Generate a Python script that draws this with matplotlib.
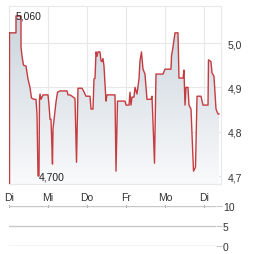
import matplotlib
matplotlib.use("Agg")
import matplotlib.pyplot as plt
import numpy as np
from matplotlib.patches import Polygon

plt.rcParams['font.family'] = ['Liberation Sans', 'DejaVu Sans']

# time in trading days since first tick (Di = 0)
t = [0, 0.179, 0.179, 0.308, 0.308, 0.333, 0.372, 0.436, 0.487, 0.538, 0.577, 0.641,
     0.692, 0.718, 0.744, 0.769, 0.782, 0.795, 0.821, 0.872, 0.949, 1.0, 1.026, 1.051,
     1.077, 1.103, 1.115, 1.128, 1.179, 1.205, 1.244, 1.308, 1.487, 1.513, 1.564, 1.615,
     1.692, 1.731, 1.769, 1.872, 1.923, 1.974, 2.077, 2.103, 2.154, 2.179, 2.205, 2.231,
     2.256, 2.282, 2.333, 2.359, 2.385, 2.410, 2.436, 2.487, 2.513, 2.718, 2.744, 2.782,
     2.974, 3.0, 3.077, 3.103, 3.128, 3.154, 3.205, 3.231, 3.282, 3.333, 3.359, 3.397,
     3.436, 3.487, 3.538, 3.641, 3.667, 3.731, 3.769, 3.949, 4.0, 4.154, 4.167, 4.205,
     4.256, 4.333, 4.359, 4.462, 4.487, 4.513, 4.538, 4.590, 4.615, 4.667, 4.731, 4.782,
     4.821, 4.923, 4.974, 5.103, 5.115, 5.179, 5.205, 5.256, 5.308, 5.359, 5.385]
price = [5.023, 5.023, 5.061, 5.061, 4.991, 4.971, 4.950, 4.948, 4.919, 4.900, 4.876, 4.873,
         4.873, 4.840, 4.700, 4.700, 4.873, 4.885, 4.873, 4.883, 4.883, 4.883, 4.860, 4.828,
         4.828, 4.760, 4.727, 4.806, 4.846, 4.867, 4.889, 4.892, 4.892, 4.883, 4.883, 4.880,
         4.875, 4.731, 4.898, 4.898, 4.890, 4.880, 4.880, 4.851, 4.851, 4.919, 4.920, 4.980,
         4.970, 4.980, 4.980, 4.960, 4.958, 4.965, 4.948, 4.869, 4.883, 4.883, 4.711, 4.869,
         4.869, 4.860, 4.860, 4.889, 4.860, 4.878, 4.878, 4.900, 4.885, 4.919, 4.960, 4.980,
         4.941, 4.930, 4.873, 4.873, 4.880, 4.729, 4.930, 4.930, 4.941, 4.941, 4.971, 4.991,
         5.023, 5.023, 4.921, 4.921, 4.939, 4.860, 4.900, 4.900, 4.860, 4.851, 4.711, 4.720,
         4.880, 4.880, 4.860, 4.860, 4.962, 4.958, 4.933, 4.925, 4.851, 4.840, 4.840]

day_labels = ["Di", "Mi", "Do", "Fr", "Mo", "Di"]
day_ticks = [0, 1, 2, 3, 4, 5]
price_ticks = [4.7, 4.8, 4.9, 5.0]
price_ticklabels = ["4,7", "4,8", "4,9", "5,0"]
vol_ticks = [0, 5, 10]
hi_label, lo_label = "5,060", "4,700"

W, H = 264, 255
fig = plt.figure(figsize=(W / 100, H / 100), dpi=100)

ymin, ymax = 4.682, 5.0835
xmax = 5.436

ax = fig.add_axes([9 / W, 1 - 185 / H, 212 / W, 178 / H])
ax.set_xlim(0, xmax)
ax.set_ylim(ymin, ymax)

# gradient fill under the line
verts = [(t[0], ymin)] + list(zip(t, price)) + [(t[-1], ymin)]
poly = Polygon(verts, closed=True, facecolor='none', edgecolor='none')
ax.add_patch(poly)
grad = np.linspace(0, 1, 256).reshape(-1, 1)
from matplotlib.colors import LinearSegmentedColormap
cmap = LinearSegmentedColormap.from_list("g", ["#f9fafb", "#c8d2db"])
im = ax.imshow(grad, extent=[0, xmax, ymin, ymax], origin='lower', cmap=cmap,
               aspect='auto', zorder=1)
im.set_clip_path(poly)

ax.plot(t, price, color='#c0282d', lw=1.0, zorder=3, alpha=0.9)
ax.plot([t[0], t[0]], [ymin, price[0]], color='#c0282d', lw=1.0, zorder=3, alpha=0.9)

ax.set_xticks(day_ticks)
ax.set_xticklabels(day_labels)
ax.set_yticks(price_ticks)
ax.set_yticklabels(price_ticklabels)
ax.yaxis.tick_right()
ax.tick_params(axis='both', length=0, labelsize=7.5, colors='#333333')
ax.tick_params(axis='x', pad=6)
ax.tick_params(axis='y', pad=5)
ax.grid(True, color='#e8e8e8', lw=0.8)
ax.set_axisbelow(True)
for s in ax.spines.values():
    s.set_color('#e8e8e8')
    s.set_linewidth(0.8)

imax = int(np.argmax(price))
imin = int(np.argmin(price))
ax.text(t[imax], price[imax], hi_label, fontsize=7.5, color='#222222',
        ha='left', va='center', zorder=4)
ax.text(t[imin] + 0.03, price[imin], lo_label, fontsize=7.5, color='#222222',
        ha='left', va='center', zorder=4)

# volume panel
vx = fig.add_axes([9 / W, 1 - 247 / H, 207 / W, 40 / H])
vx.set_xlim(0, xmax * 207 / 212)
vx.set_ylim(0, 10)
for s in vx.spines.values():
    s.set_visible(False)
vx.set_yticks(vol_ticks)
vx.yaxis.tick_right()
vx.grid(True, axis='y', color='#c8c8c8', lw=1.0)
vx.tick_params(axis='y', length=4, color='#c8c8c8', labelsize=7.5, labelcolor='#333333', pad=1)
vx.set_xticks(day_ticks)
vx.xaxis.tick_top()
vx.tick_params(axis='x', length=2, direction='inout', color='#555555', labeltop=False,
               labelbottom=False)

fig.savefig("out.png", dpi=100)
